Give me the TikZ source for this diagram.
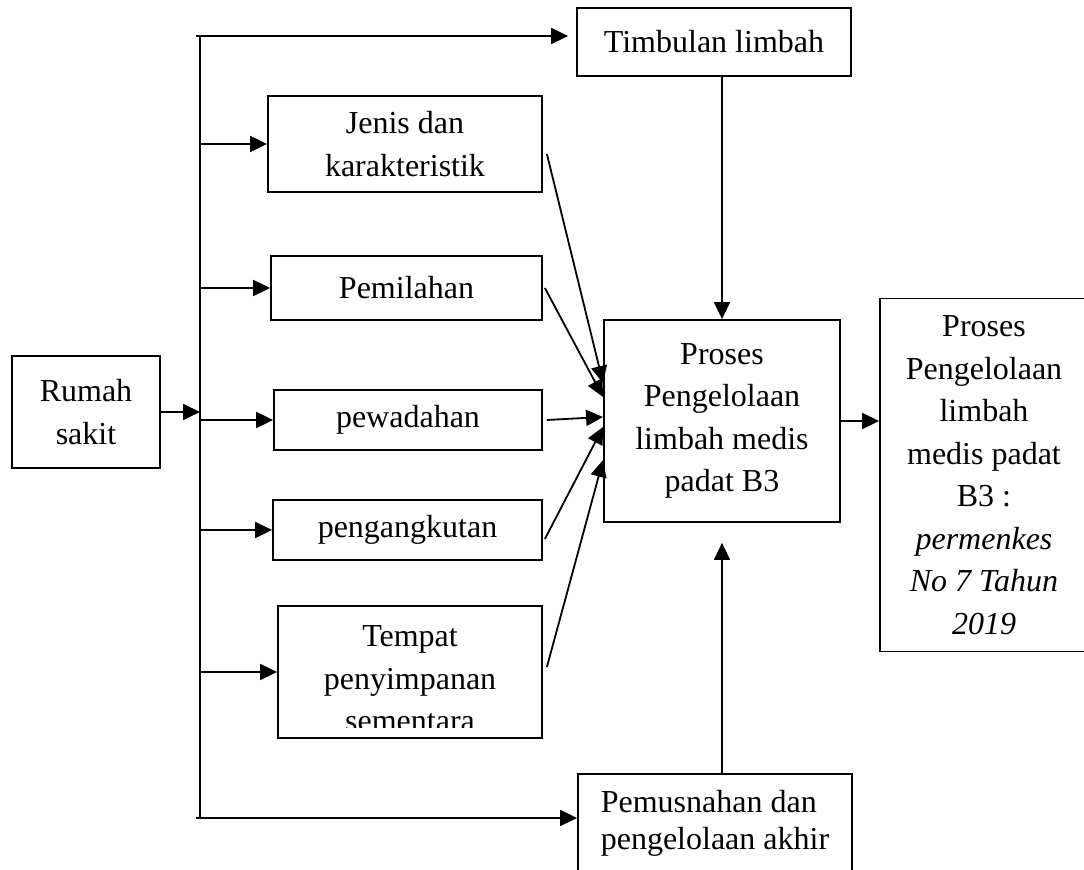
\documentclass[tikz,border=0pt]{standalone}
\usepackage{fontspec}
\setmainfont{Liberation Serif}
\usepackage{tikz}
\usetikzlibrary{arrows.meta}
\tikzset{
box/.style = {rectangle, draw=black, line width=0.9pt, inner sep=0pt, align=center, minimum width = #1},
box/.default = 130pt, % width of the box
arr/.style = {line width=0.9pt, -{Triangle[length=8.5pt, width=8pt]}},
}

\begin{document}
\begin{tikzpicture}[x=0.5pt, y=-0.5pt, font=\fontsize{16pt}{21.25pt}\selectfont]
  \useasboundingbox (0,0) rectangle (1084,870);
  \clip (0,0) rectangle (1084,870);

  % Boxes
    \node[box=74pt, minimum height=56pt] (rumah) at (86,412) {Rumah\\sakit};
    \node[box=137pt, minimum height=34pt] (timbulan) at (714,42) {Timbulan limbah};
    \node[box=137pt, minimum height=48pt] (jenis) at (405,144) {Jenis dan\\karakteristik};
    \node[box=135.5pt, minimum height=32pt] (pemilahan) at (406.5,288) {Pemilahan};
    \node[box=134pt, minimum height=30pt] (pewadahan) at (408,420) {pewadahan};
    \node[box=134.5pt, minimum height=30pt] (pengangkutan) at (407.5,530) {pengangkutan};
    \node[box=132pt, minimum height=66pt] (tempat) at (410,672) {};
    \node[box=118pt, minimum height=101pt] (proses) at (722,421) {Proses\\Pengelolaan\\limbah medis\\padat B3};
    \node[box=104pt, minimum height=176.5pt] (regulasi) at (984,475) {Proses\\Pengelolaan\\limbah\\medis padat\\B3 :\\\textit{permenkes}\\\textit{No 7 Tahun}\\\textit{2019}};
    \node[box=137pt, minimum height=49pt, align=left, font=\fontsize{16pt}{18.5pt}\selectfont] (pemusnahan) at (715,823) {Pemusnahan dan\\pengelolaan akhir};

  % Text of the storage box, cut at the bottom
    \begin{scope}
      \clip (tempat.north west) rectangle ([yshift=5.5pt]tempat.south east);
      \node[align=center] (tempatTeks) at ([yshift=-3.5pt]tempat.center) {Tempat\\penyimpanan\\sementara};
    \end{scope}

  % Node
    \coordinate (spine) at (200,412);
    \coordinate (topLeft) at (196,36);
    \coordinate (botLeft) at (196,818);

  % Lines
    \draw[line width=0.9pt] (spine |- topLeft) -- (spine |- botLeft);
    \draw[arr] (topLeft) -- ([xshift=-4pt]topLeft -| timbulan.west);
    \draw[arr] (botLeft) -- (botLeft -| pemusnahan.west);
    \draw[arr] (rumah.east) -- (rumah.east -| spine);
    \draw[arr] (spine |- jenis.west) -- (jenis.west);
    \draw[arr] (spine |- pemilahan.west) -- (pemilahan.west);
    \draw[arr] (spine |- pewadahan.west) -- (pewadahan.west);
    \draw[arr] (spine |- pengangkutan.west) -- (pengangkutan.west);
    \draw[arr] (spine |- tempat.west) -- (tempat.west);

    \draw[arr] ([shift={(2pt,-5pt)}]jenis.east) -- ([yshift=19pt]proses.west);
    \draw[arr] ([xshift=1pt]pemilahan.east) -- ([yshift=12pt]proses.west);
    \draw[arr] ([xshift=2pt]pewadahan.east) -- ([yshift=2pt]proses.west);
    \draw[arr] ([shift={(1pt,-4.5pt)}]pengangkutan.east) -- ([yshift=-3pt]proses.west);
    \draw[arr] ([shift={(2pt,2.5pt)}]tempat.east) -- ([yshift=-19.5pt]proses.west);

    \draw[arr] (proses.north |- timbulan.south) -- (proses.north);
    \draw[arr] (proses.south |- pemusnahan.north) -- ([yshift=-10pt]proses.south);
    \draw[arr] (proses.east) -- (regulasi.west |- proses.east);
\end{tikzpicture}
\end{document}
